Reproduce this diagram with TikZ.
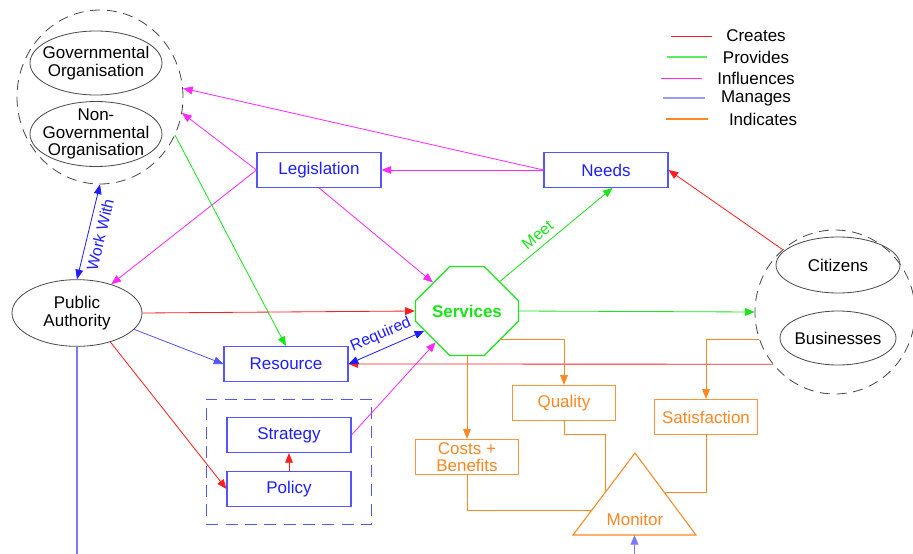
\documentclass[tikz,border=0pt]{standalone}
\usepackage{fontspec}
\setmainfont{Liberation Sans}
\usepackage{tikz}
\usetikzlibrary{arrows.meta,shapes.misc,shapes.geometric,positioning,calc,fit}
\definecolor{rojo}{RGB}{255,30,30}
\definecolor{verde}{RGB}{25,230,25}
\definecolor{rosa}{RGB}{255,40,255}
\definecolor{azul}{RGB}{30,30,255}
\definecolor{azulc}{RGB}{85,85,255}
\definecolor{naranja}{RGB}{255,135,35}
\definecolor{gris}{RGB}{75,75,75}

\begin{document}
\begin{tikzpicture}[
    x=0.03cm,y=-0.03cm,
    font=\fontsize{14.5}{15}\selectfont,
    >={Triangle[length=0.29cm,width=0.23cm]},
    box/.style={draw=azulc,line width=0.9pt,text=azul,inner sep=0pt,
                minimum width=3.72cm,minimum height=1.04cm},
    obox/.style={draw=naranja!90,line width=0.9pt,text=naranja,inner sep=0pt,
                 align=center,minimum width=3.08cm,minimum height=1.06cm},
    org/.style={ellipse,draw=gris,line width=0.7pt,inner xsep=-0.25cm,
                inner ysep=-0.1cm,align=center},
    grupo/.style={ellipse,draw=gris,line width=0.7pt,
                  dash pattern=on 0.3cm off 0.2cm},
    crea/.style={->,rojo,line width=0.7pt},
    prov/.style={->,verde,line width=0.7pt},
    infl/.style={->,rosa,line width=0.7pt},
    gest/.style={->,azul,line width=0.7pt},
    indi/.style={naranja,line width=0.7pt},
    etiq/.style={font=\fontsize{13.5}{15}\selectfont,inner sep=5pt}]
  \fill[white] (0,0) rectangle (913,554);
  \useasboundingbox (0,0) rectangle (913,554);
  \clip (0,0) rectangle (913,554);

  % organisations and public authority
  \node[grupo,minimum width=4.98cm,minimum height=5.22cm] (gorg) at (100,97) {};
  \node[org,minimum width=3.96cm,minimum height=1.92cm]
    (gov) at (96,63) {Governmental\\Organisation};
  \node[org,minimum width=3.96cm,minimum height=1.95cm]
    (ngo) at (96,134) {Non-\\Governmental\\Organisation};
  \node[org,minimum width=3.9cm,minimum height=2.0cm]
    (pa) at (77,313) {Public\\Authority};

  % citizens and businesses
  \node[grupo,minimum width=4.8cm,minimum height=4.92cm] (gcit) at (835,312) {};
  \node[org,minimum width=3.72cm,minimum height=1.68cm] (cit) at (838,265) {Citizens};
  \node[org,minimum width=3.48cm,minimum height=1.62cm] (bus) at (838,338) {Businesses};

  % blue boxes
  \node[box] (leg)  at (319,170) {Legislation};
  \node[box] (need) at (606,170) {Needs};
  \node[box] (res)  at (286,364) {Resource};
  \node[box,minimum height=1.05cm] (str) at (289,435) {Strategy};
  \node[box,minimum height=1.05cm] (pol) at (289,489) {Policy};
  \node[draw=azulc,line width=0.9pt,dash pattern=on 0.36cm off 0.22cm,
        fit=(str)(pol),inner xsep=0.6cm,inner ysep=0.53cm] (plan) {};

  % services
  \node[chamfered rectangle,chamfered rectangle sep=0.84cm,inner sep=0pt,
        draw=verde,line width=1.1pt,text=verde,font=\fontsize{14.5}{15}\selectfont\bfseries,
        minimum width=3.09cm,minimum height=2.67cm] (serv) at (467,311) {Services};

  % orange boxes and monitor
  \node[obox] (qual) at (564,403) {Quality};
  \node[obox] (sat)  at (706,417) {Satisfaction};
  \node[obox] (cb)   at (467,457) {Costs +\\Benefits};
  \coordinate (monL) at (573,535);
  \coordinate (monR) at (696,535);
  \coordinate (monT) at (635,453);
  \draw[indi,line width=0.9pt] (monL) -- (monT) -- (monR) -- cycle;
  \node[text=naranja] (mon) at (635,519) {Monitor};

  % legend
  \draw[rojo,line width=0.7pt] (671,36) -- (712,36);
  \node (lcrea) at (756,36) {Creates};
  \draw[verde!70,line width=1.1pt] (667,57) -- (707,57);
  \node (lprov) at (756,57) {Provides};
  \draw[rosa,line width=0.8pt] (661,78) -- (702,78);
  \node (linfl) at (756,78) {Influences};
  \draw[azul!45,line width=1.6pt] (663,98) -- (705,98);
  \node (lgest) at (756,98) {Manages};
  \draw[naranja,line width=0.9pt] (666,119) -- (708,119);
  \node (lindi) at (763,119) {Indicates};

  % influences
  \draw[infl] (need.west) -- (gorg.6);
  \draw[infl] (need.west) -- (leg.east);
  \draw[infl] (leg.west) -- (gorg.-11);
  \draw[infl] (leg.west) -- (pa.40);
  \draw[infl] (leg.south) -- (serv.140);
  \draw[infl] (str.east) -- (serv.225);

  % provides
  \draw[prov] (gorg.-27) -- (res.north);
  \draw[prov] (serv.42) -- node[etiq,sloped,above,pos=0.4,text=verde]{Meet} (need.290);
  \draw[prov] (serv.east) -- (gcit.west);

  % creates
  \draw[crea] (pa.east) -- (serv.west);
  \draw[crea] (pa.-41) -- (pol.west);
  \draw[crea] (pol.north) -- (str.south);
  \draw[crea] (gcit.130) -- (need.east);
  \draw[crea] (gcit.220) -- (res.east);

  % manages
  \draw[gest,<->] (pa.north) -- node[etiq,sloped,below,text=azul]{Work With} (gorg.south);
  \draw[gest,<->] (res.east) -- node[etiq,sloped,above,text=azul]{Required} (serv.205);
  \draw[gest,azulc] (pa.-16) -- (res.west);
  \coordinate (baja) at (77,585);
  \draw[gest,azul!60,line width=1pt] (pa.south) -- (baja) -| ($(monL)!0.5!(monR)$);

  % indicates
  \draw[indi,->] (serv.south) -- (cb.north);
  \draw[indi,->] (serv.-40) -| (qual.north);
  \draw[indi,->] (gcit.200) -| (sat.north);
  \draw[indi] (cb.south) |- ($(monL)!0.3!(monT)$);
  \draw[indi] (qual.south) -- ++(0,13) -| ($(monL)!0.52!(monT)$);
  \draw[indi] (sat.south) |- ($(monR)!0.52!(monT)$);
\end{tikzpicture}
\end{document}
